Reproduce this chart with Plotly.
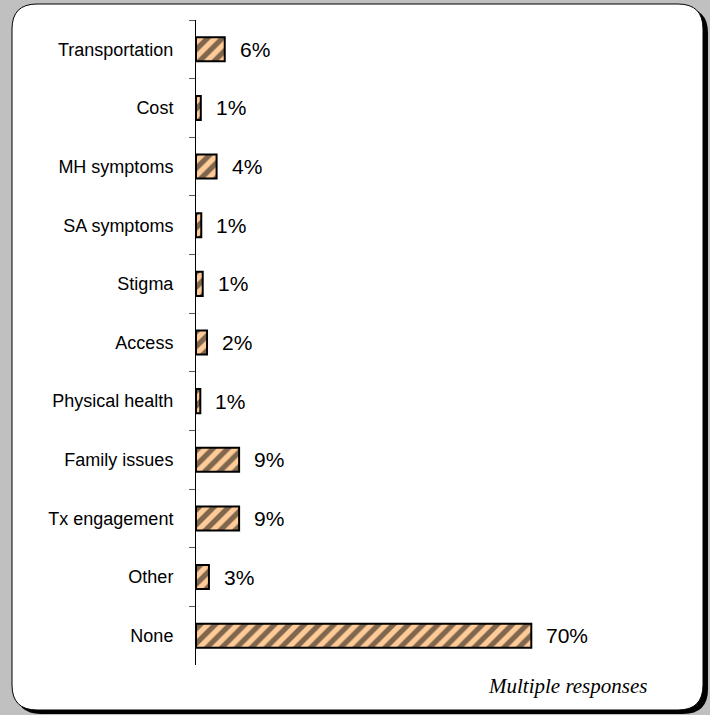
import plotly.graph_objects as go

categories = ["Transportation", "Cost", "MH symptoms", "SA symptoms", "Stigma", "Access",
              "Physical health", "Family issues", "Tx engagement", "Other", "None"]
values = [6, 1, 4.3, 1.1, 1.4, 2.3, 0.9, 9, 9, 2.7, 70]
labels = ["6%", "1%", "4%", "1%", "1%", "2%", "1%", "9%", "9%", "3%", "70%"]
note = "Multiple responses"

W, H = 710, 715
L, R, T, B = 196, 35, 20, 50
PW, PH = W - L - R, H - T - B


def px(x):
    return (x - L) / PW


def py(y):
    return (H - B - y) / PH


def rrect(x0, y0, x1, y1, r):
    return (f"M {px(x0 + r)} {py(y0)} L {px(x1 - r)} {py(y0)} "
            f"Q {px(x1)} {py(y0)} {px(x1)} {py(y0 + r)} "
            f"L {px(x1)} {py(y1 - r)} Q {px(x1)} {py(y1)} {px(x1 - r)} {py(y1)} "
            f"L {px(x0 + r)} {py(y1)} Q {px(x0)} {py(y1)} {px(x0)} {py(y1 - r)} "
            f"L {px(x0)} {py(y0 + r)} Q {px(x0)} {py(y0)} {px(x0 + r)} {py(y0)} Z")


fig = go.Figure(go.Bar(
    x=values, y=categories, orientation="h", width=0.41,
    marker=dict(color="#FFCC99", line=dict(color="black", width=2),
                pattern=dict(shape="/", bgcolor="#FFCC99", fgcolor="black",
                             size=10.5, solidity=0.5)),
    hoverinfo="skip",
))

annotations = [dict(x=v, y=c, xref="x", yref="y", text=t, showarrow=False,
                    xanchor="left", yanchor="middle", xshift=13,
                    font=dict(family="Liberation Sans, Arial", size=21, color="black"))
               for c, v, t in zip(categories, values, labels)]
annotations.append(dict(x=px(649), y=py(686), xref="paper", yref="paper",
                        text="<i>" + note + "</i>",
                        showarrow=False, xanchor="right", yanchor="middle",
                        font=dict(family="Liberation Serif, Times New Roman", size=21,
                                  color="black")))

shapes = [
    dict(type="path", xref="paper", yref="paper", path=rrect(16, 8, 708, 714, 25),
         fillcolor="black", line=dict(width=0), layer="below"),
    dict(type="path", xref="paper", yref="paper", path=rrect(12, 4, 703, 710, 25),
         fillcolor="white", line=dict(color="black", width=1), layer="below"),
]

fig.update_layout(
    width=W, height=H,
    margin=dict(l=L, r=R, t=T, b=B),
    paper_bgcolor="#C0C0C0",
    plot_bgcolor="rgba(0,0,0,0)",
    showlegend=False,
    shapes=shapes,
    annotations=annotations,
    xaxis=dict(range=[0, 100], visible=False, fixedrange=True),
    yaxis=dict(categoryorder="array", categoryarray=categories, autorange="reversed",
               showline=True, linecolor="black", linewidth=1,
               ticks="outside", ticklen=6, tickcolor="#555", tickwidth=1,
               tickson="boundaries", showgrid=False, ticklabelstandoff=18,
               fixedrange=True,
               tickfont=dict(family="Liberation Sans, Arial", size=18, color="black")),
    bargap=0.59,
)

fig.write_html("out.html",
               config={"displayModeBar": False},
               post_script="document.body.style.margin='0';"
                           "document.body.style.background='#C0C0C0';")
